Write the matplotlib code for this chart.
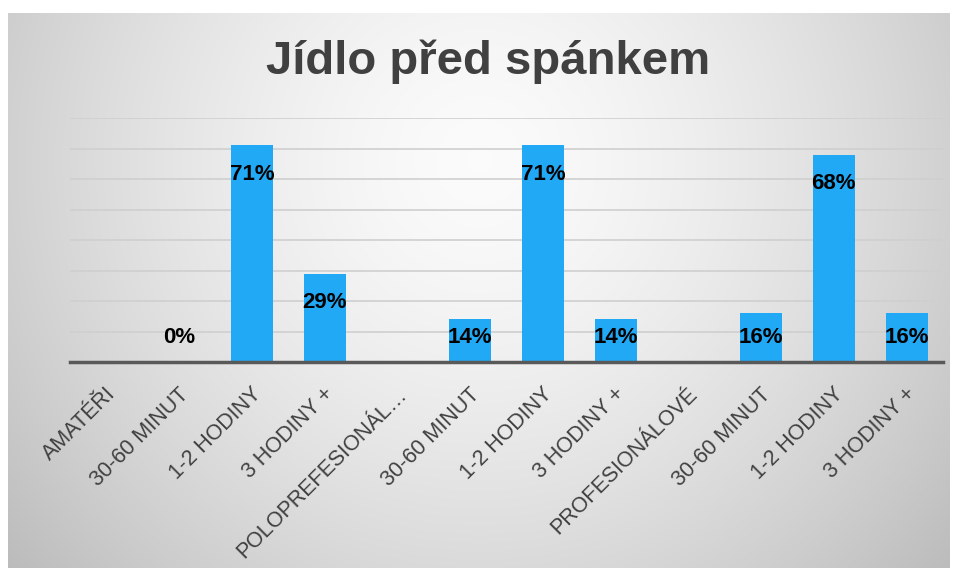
import numpy as np
import matplotlib.pyplot as plt
from matplotlib.transforms import ScaledTranslation

categories = ['AMATÉŘI', '30-60 MINUT', '1-2 HODINY', '3 HODINY +',
              'POLOPREFESIONÁL…', '30-60 MINUT', '1-2 HODINY', '3 HODINY +',
              'PROFESIONÁLOVÉ', '30-60 MINUT', '1-2 HODINY', '3 HODINY +']
values = [None, 0.0, 0.71, 0.29, None, 0.14, 0.71, 0.14, None, 0.16, 0.68, 0.16]
labels = ['', '0%', '71%', '29%', '', '14%', '71%', '14%', '', '16%', '68%', '16%']

W, H = 955, 568
fig = plt.figure(figsize=(W / 100, H / 100), dpi=100)
fig.patch.set_facecolor('white')

# radial gradient background panel
bg = fig.add_axes([8 / W, 0, (950 - 8) / W, (H - 13) / H])
yy, xx = np.mgrid[0:300, 0:500]
cx, cy = 250, 80
r = np.sqrt(((xx - cx) / 320.0) ** 2 + ((yy - cy) / 330.0) ** 2)
shade = 0.985 - 0.24 * np.clip(r, 0, 1.2) ** 1.5
bg.imshow(np.dstack([shade] * 3), aspect='auto', extent=[0, 1, 0, 1], origin='upper')
bg.set_axis_off()

ax = fig.add_axes([70 / W, 1 - 362 / H, (943 - 70) / W, (362 - 118) / H])
ax.set_facecolor('none')
x = np.arange(len(categories))
heights = [v if v is not None else 0 for v in values]
ax.bar(x, heights, width=0.58, color='#22A9F6', zorder=3)

for xi, v, lab in zip(x, values, labels):
    if v is None:
        continue
    ax.text(xi, max(v - 0.095, 0.08), lab, ha='center', va='center',
            fontsize=16, fontweight='bold', color='black',
            family='Liberation Sans', zorder=4)

ax.set_xlim(-0.5, len(categories) - 0.5)
ax.set_ylim(0, 0.8)
ax.set_yticks(np.arange(0, 0.81, 0.1))
ax.yaxis.grid(True, color='#cfcfcf', linewidth=1.2, zorder=0)
ax.tick_params(axis='y', left=False, labelleft=False)
ax.tick_params(axis='x', bottom=False, pad=6)
for s in ['top', 'right', 'left']:
    ax.spines[s].set_visible(False)
ax.spines['bottom'].set_color('#595959')
ax.spines['bottom'].set_linewidth(2.5)
ax.spines['bottom'].set_zorder(5)

ax.set_xticks(x)
ax.set_xticklabels(categories, rotation=45, ha='right', va='center',
                   rotation_mode='anchor', fontsize=15.5, color='#404040',
                   family='Liberation Sans')
offset = ScaledTranslation(6 / 100, -16 / 100, fig.dpi_scale_trans)
for t in ax.get_xticklabels():
    t.set_transform(t.get_transform() + offset)

fig.text(488 / W, 1 - 62 / H, 'Jídlo před spánkem', ha='center', va='center',
         fontsize=34, fontweight='bold', color='#404040', family='Liberation Sans')

fig.savefig('out.png', dpi=100)
